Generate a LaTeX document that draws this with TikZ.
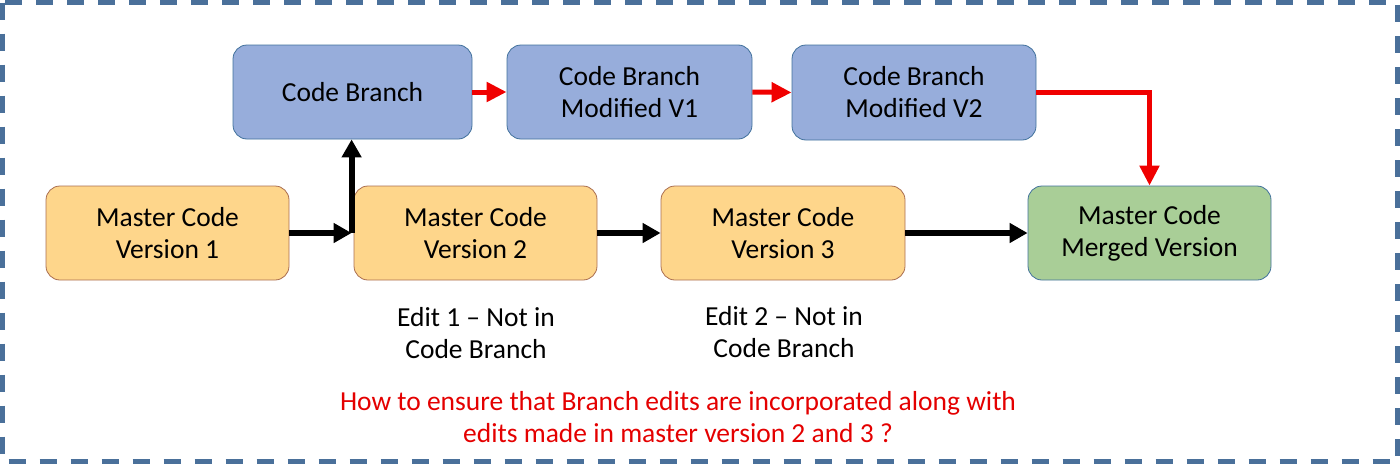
\documentclass[tikz,border=0pt]{standalone}
\usepackage{fontspec}
\setmainfont{Carlito}
\usetikzlibrary{arrows.meta}
\definecolor{frameblue}{RGB}{74,112,154}
\definecolor{bluefill}{RGB}{151,173,219}
\definecolor{blueline}{RGB}{65,113,156}
\definecolor{yellowfill}{RGB}{254,214,139}
\definecolor{yellowline}{RGB}{170,110,80}
\definecolor{greenfill}{RGB}{169,206,151}
\definecolor{qred}{RGB}{228,0,0}
\definecolor{ared}{RGB}{240,0,0}
\tikzset{
  box/.style={rounded corners=14pt, line width=0.8pt, align=center, inner sep=0pt,
    font=\fontsize{27.5}{32}\selectfont, text=black},
  bluebox/.style={box, fill=bluefill, draw=blueline},
  yellowbox/.style={box, fill=yellowfill, draw=yellowline},
  greenbox/.style={box, fill=greenfill, draw=blueline},
  blk/.style={draw=black, line width=6pt, -{Triangle[length=18pt,width=19pt]}},
  redarr/.style={draw=ared, line width=5pt, -{Triangle[length=20pt,width=19pt]}},
  note/.style={align=center, font=\fontsize{27.5}{32}\selectfont, inner sep=0pt},
}
\begin{document}
\begin{tikzpicture}[x=1pt,y=-1pt]
\useasboundingbox (0,0) rectangle (1400,466);
\draw[frameblue, line width=4.5pt, dash pattern=on 17pt off 14pt] (2.5,2.5) rectangle (1397.5,461.5);

\node[bluebox, minimum width=239pt, minimum height=94pt] (cb) at (352.5,92) {Code Branch};
\node[bluebox, minimum width=245pt, minimum height=94pt] (v1) at (629.5,92) {Code Branch\\Modified V1};
\node[bluebox, minimum width=244pt, minimum height=95pt] (v2) at (914,92.5) {Code Branch\\Modified V2};

\node[yellowbox, minimum width=243pt, minimum height=94pt] (m1) at (167.5,233) {Master Code\\Version 1};
\node[yellowbox, minimum width=243pt, minimum height=94pt] (m2) at (475.5,233) {Master Code\\Version 2};
\node[yellowbox, minimum width=244pt, minimum height=94pt] (m3) at (783,233) {Master Code\\Version 3};
\node[greenbox, minimum width=243pt, minimum height=94pt] (mg) at (1149.5,233) {Master Code\\Merged Version};

\node[note] (e1) at (476,333) {Edit 1 – Not in\\Code Branch};
\node[note] (e2) at (784,332) {Edit 2 – Not in\\Code Branch};
\node[note, text=qred] (q) at (678,417) {How to ensure that Branch edits are incorporated along with\\edits made in master version 2 and 3 ?};

\coordinate (j) at ([xshift=-2pt]m2.west);
\draw[blk] (m1.east) -- (j);
\draw[blk] (j) -- (j |- cb.south);
\draw[blk] (m2.east) -- (m3.west);
\draw[blk] (m3.east) -- (mg.west);

\draw[redarr] (cb.east) -- (v1.west);
\draw[redarr] (v1.east) -- (v2.west);
\draw[redarr] (v2.east) -| (mg.north);
\end{tikzpicture}
\end{document}
